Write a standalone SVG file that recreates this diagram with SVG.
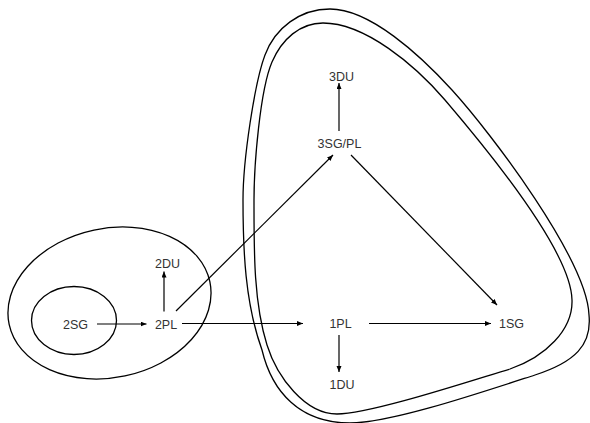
<svg xmlns="http://www.w3.org/2000/svg" width="590" height="423" viewBox="0 0 590 423">
<defs>
<marker id="ah" markerUnits="userSpaceOnUse" markerWidth="7" markerHeight="6" refX="6" refY="2.5" orient="auto">
<path d="M0,0 L6,2.5 L0,5 z" fill="#000"/>
</marker>
<style>
.sh{fill:none;stroke:#000;stroke-width:1.3}
.cn{fill:none;stroke:#000;stroke-width:1.2;marker-end:url(#ah)}
.lb{font-family:"Liberation Sans",Arial,sans-serif;font-size:12.5px;fill:#333;text-anchor:middle}
</style>
</defs>
<rect width="590" height="423" fill="#fff"/>
<g id="regions">
<ellipse class="sh" cx="109.5" cy="303" rx="102.6" ry="74.6" transform="rotate(-12 109.5 303)"/>
<ellipse class="sh" cx="74" cy="320.5" rx="42.5" ry="34"/>
<path class="sh" d="M330,9 C370,9 420,55 452,90 C492,134 587,260 589,315 C592,345 575,362 535,375 C475,394.5 390,423 350,423 C300,423 272,392 262,350 C245,303 243,250 243,200 C243,160 254.5,83 265,55 C275,28 300,9 330,9 Z"/>
<path class="sh" d="M323,23 C365,23 415,65 445,100 C480,141 571,250 572,300 C573,330 545,357 510,369 C470,381 370,414 337,414 C305,414 277,377 267,345 C253.5,302 254,250 254,200 C254,165 260,90 272,62 C282,39 300,23 323,23 Z"/>
</g>
<g id="connectors">
<line class="cn" x1="97" y1="324" x2="146.5" y2="324"/>
<line class="cn" x1="164" y1="311.5" x2="164" y2="271.5"/>
<line class="cn" x1="176" y1="311" x2="333" y2="155"/>
<line class="cn" x1="182" y1="323.5" x2="303" y2="323.5"/>
<line class="cn" x1="369" y1="323.5" x2="491" y2="323.5"/>
<line class="cn" x1="339" y1="335" x2="339" y2="372"/>
<line class="cn" x1="351" y1="155" x2="497" y2="305"/>
<line class="cn" x1="339" y1="131" x2="339" y2="83"/>
</g>
<g id="n2SG"><text class="lb" x="75.5" y="328.5">2SG</text></g>
<g id="n2PL"><text class="lb" x="166" y="328.5">2PL</text></g>
<g id="n2DU"><text class="lb" x="167.5" y="267.5">2DU</text></g>
<g id="n1PL"><text class="lb" x="340.5" y="328">1PL</text></g>
<g id="n1SG"><text class="lb" x="511.5" y="328">1SG</text></g>
<g id="n1DU"><text class="lb" x="342" y="388.5">1DU</text></g>
<g id="n3SGPL"><text class="lb" x="339.5" y="147.5">3SG/PL</text></g>
<g id="n3DU"><text class="lb" x="341.5" y="80.5">3DU</text></g>
</svg>
